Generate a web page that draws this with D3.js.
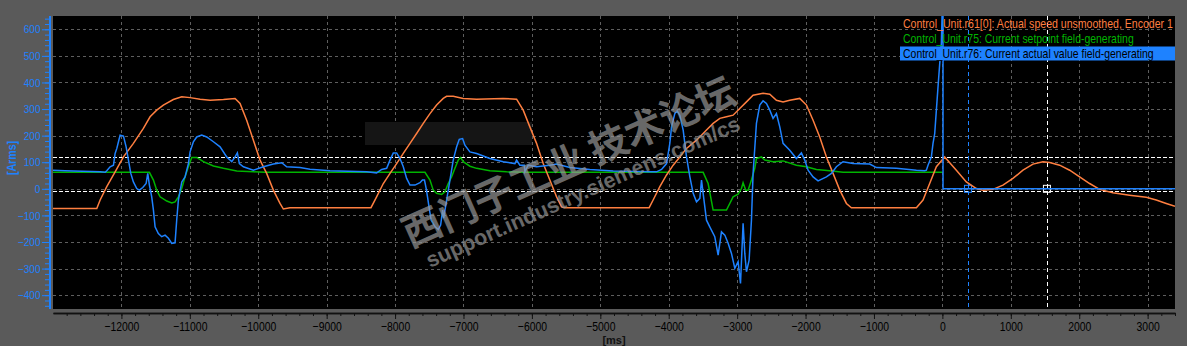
<!DOCTYPE html>
<html>
<head>
<meta charset="utf-8">
<script src="https://cdn.jsdelivr.net/npm/d3@7"></script>
<style>
  body { margin: 0; background: #5a5a5a; }
  svg { display: block; }
  .sans { font-family: "Liberation Sans", Arial, sans-serif; }
</style>
</head>
<body>
<div id="chart"></div>
<script>
// x ticks (ms) and y ticks (Arms)
var xTicks = d3.range(-12000, 3001, 1000);
var yTicks = d3.range(-400, 601, 100);

// legend names
var seriesNames = [
    'Control_Unit.r61[0]: Actual speed unsmoothed, Encoder 1',
    'Control_Unit.r75: Current setpoint field-generating',
    'Control_Unit.r76: Current actual value field-generating'
];

// r61 speed trace [ms, value]
var speedData = [
    [-13000,-74],[-12360,-74],[-12311,-42],[-12214,8],[-12092,64],[-11970,120],[-11825,171],[-11679,227],[-11581,271],
    [-11484,296],[-11387,315],[-11241,336],[-11118,346],[-10996,343],[-10850,337],[-10704,333],[-10509,336],[-10339,340],
    [-10266,321],[-10169,258],[-10071,183],[-9974,108],[-9877,58],[-9779,-5],[-9682,-55],[-9633,-76],[-9536,-71],[-9390,-71],
    [-8352,-71],[-8270,-30],[-8172,20],[-8074,58],[-7977,95],[-7880,133],[-7782,171],[-7685,208],[-7588,246],[-7490,283],
    [-7393,315],[-7296,340],[-7247,348],[-7150,348],[-7004,340],[-6809,337],[-6420,340],[-6224,337],[-6127,296],[-6030,233],
    [-5932,171],[-5835,95],[-5738,33],[-5640,-30],[-5567,-68],[-5518,-71],
    [-4286,-71],[-4228,-42],[-4130,8],[-4032,52],[-3935,89],[-3838,120],[-3740,152],[-3594,183],[-3448,221],[-3351,246],
    [-3253,265],[-3156,271],[-3059,277],[-2962,302],[-2864,327],[-2767,352],[-2621,359],[-2523,356],[-2426,333],[-2329,327],
    [-2231,333],[-2085,340],[-1987,315],[-1890,258],[-1793,195],[-1695,120],[-1598,58],[-1500,-5],[-1403,-55],[-1330,-71],
    [-380,-71],[-283,-42],[-186,20],[-88,83],[33,120],[204,70],[350,26],[497,1],[593,-5],[739,-2],[885,14],[1031,39],
    [1178,70],[1324,93],[1470,102],[1568,99],[1714,89],[1860,70],[2006,45],[2152,20],[2298,-2],[2492,-15],[2736,-24],
    [2980,-32],[3126,-42],[3272,-55],[3400,-66]
];

// r75 current setpoint
var setpointData = [
    [-13000,62],[-11591,62],[-11532,33],[-11484,-5],[-11435,-30],[-11337,-46],[-11264,-53],[-11216,-49],[-11167,-30],
    [-11118,1],[-11070,45],[-11021,83],[-10972,118],[-10899,118],[-10801,102],[-10655,86],[-10509,77],[-10314,67],
    [-10071,64],[-9900,62],
    [-7563,62],[-7490,33],[-7442,-5],[-7393,-17],[-7319,-21],[-7271,-11],[-7223,20],[-7174,45],[-7125,77],[-7077,108],
    [-7042,118],[-7004,102],[-6906,85],[-6808,77],[-6614,68],[-6370,64],[-6127,62],
    [-3497,62],[-3424,20],[-3351,-80],[-3156,-80],[-3059,-30],[-2986,-20],[-2937,1],[-2913,23],[-2874,-5],[-2840,-5],
    [-2791,33],[-2742,77],[-2718,114],[-2645,120],[-2596,108],[-2475,102],[-2329,105],[-2134,89],[-1987,83],[-1841,73],
    [-1646,68],[-1452,62],[0,62]
];

// r76 current actual value
var actualData = [
    [-13000,70],[-12823,68],[-12311,64],[-12238,62],[-12214,68],[-12165,83],[-12116,89],[-12092,133],[-12067,152],
    [-12043,177],[-12019,202],[-11970,198],[-11931,158],[-11897,108],[-11863,58],[-11825,26],[-11776,1],[-11737,-5],
    [-11688,5],[-11639,20],[-11615,58],[-11591,14],[-11557,-30],[-11532,-80],[-11508,-143],[-11460,-168],[-11411,-180],
    [-11362,-174],[-11313,-186],[-11264,-205],[-11216,-203],[-11192,-118],[-11167,-42],[-11118,26],[-11070,45],
    [-11021,95],[-10996,139],[-10948,177],[-10899,195],[-10826,202],[-10753,195],[-10655,177],[-10558,158],[-10461,120],
    [-10387,102],[-10339,120],[-10305,135],[-10276,95],[-10217,83],[-10071,70],[-9925,83],[-9779,93],[-9657,98],
    [-9584,83],[-9390,80],
    [-9244,74],[-8951,68],[-8415,64],[-8270,60],[-8196,73],[-8123,77],[-8074,108],[-8026,135],[-7977,135],[-7928,114],
    [-7880,83],[-7831,39],[-7782,14],[-7709,14],[-7636,23],[-7600,33],[-7570,33],[-7545,1],[-7526,-30],[-7497,-80],
    [-7472,-118],[-7414,-143],[-7369,-153],[-7334,-136],[-7305,-80],[-7290,-110],[-7246,-42],[-7198,33],[-7150,108],
    [-7100,158],[-7062,186],[-7013,189],[-6979,164],[-6906,139],[-6808,133],[-6614,114],[-6419,102],[-6248,95],
    [-6224,108],[-6176,89],[-6110,89],[-6103,64],[-6054,89],[-5932,83],[-5738,89],[-5640,93],[-5445,80],[-5153,73],
    [-4812,67],[-4276,64],[-4178,64],[-4105,73],[-4032,95],[-3984,171],[-3959,233],[-3911,283],[-3877,293],[-3838,277],
    [-3789,221],[-3740,120],[-3691,45],[-3643,-17],[-3594,-49],[-3545,-36],[-3521,33],[-3497,-17],[-3448,-118],
    [-3400,-143],[-3327,-180],[-3278,-249],[-3229,-162],[-3180,-174],[-3132,-205],[-3083,-243],[-3034,-299],[-2986,-274],
    [-2951,-356],[-2913,-130],[-2888,-243],[-2864,-312],[-2825,-268],[-2791,-118],[-2767,58],[-2718,246],[-2669,315],
    [-2621,331],[-2572,321],[-2523,296],[-2475,265],[-2426,283],[-2377,233],[-2329,171],[-2231,145],[-2134,114],
    [-2061,135],[-2012,108],[-1963,70],[-1890,45],[-1817,30],[-1695,45],[-1622,58],[-1549,83],[-1452,102],[-1306,95],
    [-1062,93],[-964,80],[-672,77],[-380,70],[-259,68],[-234,70],[-210,89],[-161,120],[-137,171],[-112,208],[-88,296],
    [-64,383],[-39,471],[-15,547],[0,700],[9,700],[9,0],[3400,0]
];

// cursors
var cursorX = [374, 1528];
var cursorY = [120, -10];

var svgWidth = 1187;
var svgHeight = 346;

var plot = { left: 53, right: 1175, top: 16, bottom: 309 };

var svg = d3.select('#chart')
    .append('svg')
    .attr('width', svgWidth)
    .attr('height', svgHeight);

svg.append('rect')
    .attr('width', svgWidth)
    .attr('height', svgHeight)
    .attr('fill', '#5a5a5a');

// scales
var xScale = d3.scaleLinear()
    .domain([-13000, 3400])
    .range([plot.left, plot.right]);

var yScale = d3.scaleLinear()
    .domain([-452, 650])
    .range([plot.bottom, plot.top]);

// plot background
svg.append('rect')
    .attr('x', plot.left)
    .attr('y', plot.top)
    .attr('width', plot.right - plot.left)
    .attr('height', plot.bottom - plot.top)
    .attr('fill', '#000');

svg.append('clipPath')
    .attr('id', 'clip')
    .append('rect')
    .attr('x', plot.left)
    .attr('y', plot.top)
    .attr('width', plot.right - plot.left)
    .attr('height', plot.bottom - plot.top);

// grid
var grid = svg.append('g');
grid.selectAll('.vgrid')
    .data(xTicks)
    .enter()
    .append('line')
    .attr('x1', d => Math.round(xScale(d)) + 0.5)
    .attr('x2', d => Math.round(xScale(d)) + 0.5)
    .attr('y1', plot.top)
    .attr('y2', plot.bottom)
    .attr('stroke', '#5e5e5e')
    .attr('stroke-dasharray', '3,3');

grid.selectAll('.hgrid')
    .data(yTicks)
    .enter()
    .append('line')
    .attr('x1', plot.left)
    .attr('x2', plot.right)
    .attr('y1', d => Math.round(yScale(d)) + 0.5)
    .attr('y2', d => Math.round(yScale(d)) + 0.5)
    .attr('stroke', '#5e5e5e')
    .attr('stroke-dasharray', '3,3');

// faint box (from the screenshot)
svg.append('rect')
    .attr('x', 365).attr('y', 122)
    .attr('width', 167).attr('height', 23)
    .attr('fill', '#151515');

// cursors
var cursors = svg.append('g').attr('clip-path', 'url(#clip)');
cursors.selectAll('.cy')
    .data(cursorY)
    .enter()
    .append('line')
    .attr('x1', plot.left)
    .attr('x2', plot.right)
    .attr('y1', d => Math.round(yScale(d)) + 0.5)
    .attr('y2', d => Math.round(yScale(d)) + 0.5)
    .attr('stroke', '#ffffff')
    .attr('stroke-dasharray', '4,2');

cursors.selectAll('.cx')
    .data(cursorX)
    .enter()
    .append('line')
    .attr('x1', d => Math.round(xScale(d)) + 0.5)
    .attr('x2', d => Math.round(xScale(d)) + 0.5)
    .attr('y1', plot.top)
    .attr('y2', plot.bottom)
    .attr('stroke', (d, i) => i === 0 ? '#1e82ff' : '#ffffff')
    .attr('stroke-dasharray', '4,3');

// lines
var line = d3.line()
    .x(d => xScale(d[0]))
    .y(d => yScale(d[1]));

var lines = svg.append('g').attr('clip-path', 'url(#clip)');

var colors = ['#ff7f40', '#00b400', '#1e82ff'];

lines.append('path')
    .datum(setpointData)
    .attr('d', line)
    .attr('fill', 'none')
    .attr('stroke', colors[1])
    .attr('stroke-width', 1.5);

lines.append('path')
    .datum(speedData)
    .attr('d', line)
    .attr('fill', 'none')
    .attr('stroke', colors[0])
    .attr('stroke-width', 1.5);

lines.append('path')
    .datum(actualData)
    .attr('d', line)
    .attr('fill', 'none')
    .attr('stroke', colors[2])
    .attr('stroke-width', 1.5);

// cursor markers
cursors.selectAll('.mk')
    .data(cursorX)
    .enter()
    .append('rect')
    .attr('x', d => xScale(d) - 3.5)
    .attr('y', yScale(0) - 3.5)
    .attr('width', 7)
    .attr('height', 7)
    .attr('fill', 'none')
    .attr('stroke', (d, i) => i === 0 ? '#1e82ff' : '#ffffff');

// legend - squeeze each line to the width it has in the original
var legend = svg.append('g').attr('class', 'sans');
var legendWidths = [270, 231, 251];
legend.append('rect')
    .attr('x', 900)
    .attr('y', 46.5)
    .attr('width', 275)
    .attr('height', 14)
    .attr('fill', '#1e82ff');

legend.selectAll('text')
    .data(seriesNames)
    .enter()
    .append('text')
    .attr('font-size', '12px')
    .attr('fill', (d, i) => i === 2 ? '#000' : colors[i])
    .text(d => d)
    .attr('transform', function (d, i) {
        var w = this.getComputedTextLength();
        return `translate(903, ${27.5 + i * 15}) scale(${legendWidths[i] / w}, 1)`;
    });

// x axis
var bottomAxis = d3.axisBottom(xScale)
    .tickValues(xTicks)
    .tickSize(6)
    .tickSizeOuter(0)
    .tickPadding(3)
    .tickFormat(d3.format('d'));

var minorX = d3.axisBottom(xScale)
    .tickValues(d3.range(-12800, 3401, 200))
    .tickSize(3)
    .tickSizeOuter(0)
    .tickFormat('');

var xAxisG = svg.append('g')
    .attr('transform', 'translate(0, 313)')
    .call(bottomAxis);
svg.append('g')
    .attr('transform', 'translate(0, 313)')
    .call(minorX);

svg.selectAll('.domain').attr('stroke', '#111').attr('stroke-width', 1.5);
svg.selectAll('.tick line').attr('stroke', '#111');
xAxisG.selectAll('text')
    .attr('class', 'sans')
    .attr('font-size', '13px')
    .attr('fill', '#000')
    .attr('transform', 'scale(0.8, 1)');

// y axis
var leftAxis = d3.axisLeft(yScale)
    .tickValues(yTicks)
    .tickSize(8)
    .tickSizeOuter(0)
    .tickPadding(3);

var minorY = d3.axisLeft(yScale)
    .tickValues(d3.range(-440, 641, 20))
    .tickSize(5)
    .tickSizeOuter(0)
    .tickFormat('');

var yAxisG = svg.append('g')
    .attr('transform', 'translate(50, 0)')
    .call(leftAxis);
var yMinorG = svg.append('g')
    .attr('transform', 'translate(50, 0)')
    .call(minorY);

yAxisG.select('.domain').attr('stroke', '#1e82ff').attr('stroke-width', 2)
    .attr('d', `M0,${plot.top}V${plot.bottom}`);
yMinorG.select('.domain').remove();
yAxisG.selectAll('.tick line').attr('stroke', '#1e82ff');
yMinorG.selectAll('.tick line').attr('stroke', '#1e82ff');
yAxisG.selectAll('text')
    .attr('class', 'sans')
    .attr('font-size', '11.5px')
    .attr('fill', '#1e82ff')
    .attr('transform', 'scale(0.87, 1)');

// axis labels
svg.append('text')
    .attr('class', 'sans')
    .attr('transform', 'translate(16, 158) rotate(-90) scale(0.85, 1)')
    .attr('text-anchor', 'middle')
    .attr('font-size', '12.5px')
    .attr('font-weight', 'bold')
    .attr('fill', '#1e82ff')
    .text('[Arms]');

svg.append('text')
    .attr('class', 'sans')
    .attr('x', 614)
    .attr('y', 344)
    .attr('text-anchor', 'middle')
    .attr('font-size', '11px')
    .attr('font-weight', 'bold')
    .attr('fill', '#111')
    .text('[ms]');

// watermark
var wm = svg.append('g').attr('opacity', 0.68);
wm.append('text')
    .attr('transform', 'translate(410, 248) rotate(-24)')
    .attr('font-family', '"Noto Sans CJK SC", sans-serif')
    .attr('font-weight', 'bold')
    .attr('font-size', '39px')
    .attr('fill', '#9a9a9a')
    .text('西门子工业  技术论坛');
wm.append('text')
    .attr('transform', 'translate(430, 268) rotate(-24)')
    .attr('font-family', '"Liberation Sans", sans-serif')
    .attr('font-weight', 'bold')
    .attr('font-size', '21.5px')
    .attr('fill', '#9a9a9a')
    .text('support.industry.siemens.com/cs');
</script>
</body>
</html>
